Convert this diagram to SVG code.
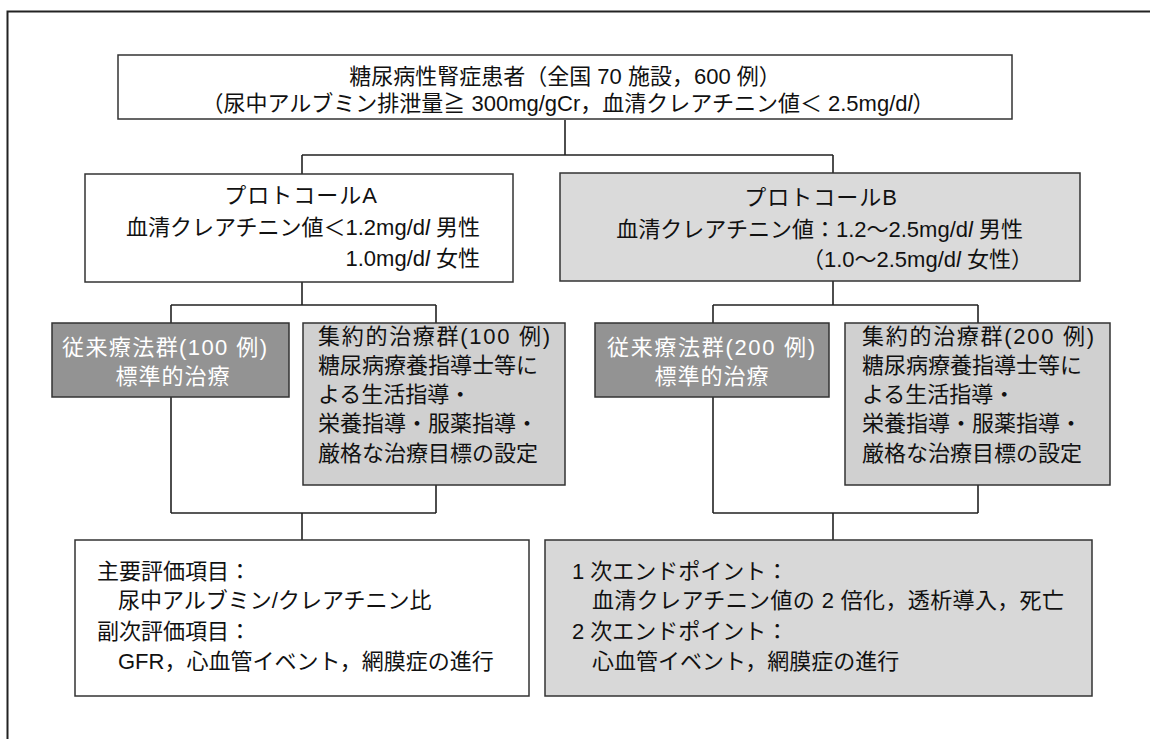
<svg xmlns="http://www.w3.org/2000/svg" width="1150" height="739" viewBox="0 0 1150 739">
<style>
.t{font-family:'Liberation Sans','Noto Sans CJK JP',sans-serif;font-size:22px;fill:#111}
.w{fill:#fff}
.bx{stroke:#333;stroke-width:1.5}
.cn{fill:none;stroke:#222;stroke-width:1.6}
.it{font-style:italic}
</style>
<rect x="0" y="0" width="1150" height="739" fill="#fff"/>
<path d="M7.5,739 V11.5 H1150" fill="none" stroke="#222" stroke-width="2"/>
<g id="connectors" class="cn">
<path d="M565,120 V155 M302,155 H833 M302,155 V174 M833,155 V173"/>
<path d="M302,282 V305 M171,305 H436 M171,305 V323 M436,305 V323"/>
<path d="M833,281 V305 M713,305 H978 M713,305 V323 M978,305 V323"/>
<path d="M171,397 V513 M436,485 V513 M171,513 H436 M302,513 V540"/>
<path d="M713,397 V513 M978,485 V513 M713,513 H978 M833,513 V540"/>
</g>
<g id="top">
<rect class="bx" x="118" y="55" width="894" height="64" fill="#fff"/>
<text class="t" x="565" y="84" text-anchor="middle" font-size="23">糖尿病性腎症患者（全国 70 施設，600 例）</text>
<text class="t" x="568" y="111" text-anchor="middle" font-size="23">（尿中アルブミン排泄量≧ 300mg/gCr，血清クレアチニン値＜ 2.5mg/d<tspan class="it">l</tspan>）</text>
</g>
<g id="protocolA">
<rect class="bx" x="85" y="174" width="428" height="108" fill="#fff"/>
<text class="t" x="301" y="203" text-anchor="middle" letter-spacing="1">プロトコールA</text>
<text class="t" x="480" y="235" text-anchor="end">血清クレアチニン値＜1.2mg/d<tspan class="it">l</tspan> 男性</text>
<text class="t" x="480" y="266" text-anchor="end">1.0mg/d<tspan class="it">l</tspan> 女性</text>
</g>
<g id="protocolB">
<rect class="bx" x="560" y="173" width="520" height="108" fill="#dadada"/>
<text class="t" x="821" y="205" text-anchor="middle" letter-spacing="1">プロトコールB</text>
<text class="t" x="1023" y="237" text-anchor="end">血清クレアチニン値：1.2～2.5mg/d<tspan class="it">l</tspan> 男性</text>
<text class="t" x="1033" y="267" text-anchor="end">（1.0～2.5mg/d<tspan class="it">l</tspan> 女性）</text>
</g>
<g id="conventionalA">
<rect class="bx" x="52" y="323" width="237" height="74" fill="#939393"/>
<text class="t w" x="62" y="355" font-size="23" textLength="205" lengthAdjust="spacing">従来療法群(100 例)</text>
<text class="t w" x="173" y="384" text-anchor="middle" font-size="23" letter-spacing="1">標準的治療</text>
</g>
<g id="intensiveA">
<rect class="bx" x="303" y="323" width="262" height="162" fill="#d0d0d0"/>
<text class="t" x="318" y="344" font-size="23" textLength="232" lengthAdjust="spacing">集約的治療群(100 例)</text>
<text class="t" x="318" y="373" font-size="23">糖尿病療養指導士等に</text>
<text class="t" x="318" y="402" font-size="23">よる生活指導・</text>
<text class="t" x="318" y="431" font-size="23">栄養指導・服薬指導・</text>
<text class="t" x="318" y="461" font-size="23">厳格な治療目標の設定</text>
</g>
<g id="conventionalB">
<rect class="bx" x="595" y="323" width="234" height="74" fill="#939393"/>
<text class="t w" x="607" y="355" font-size="23" textLength="208" lengthAdjust="spacing">従来療法群(200 例)</text>
<text class="t w" x="712" y="384" text-anchor="middle" font-size="23" letter-spacing="1">標準的治療</text>
</g>
<g id="intensiveB">
<rect class="bx" x="845" y="323" width="265" height="162" fill="#d0d0d0"/>
<text class="t" x="862" y="344" font-size="23" textLength="232" lengthAdjust="spacing">集約的治療群(200 例)</text>
<text class="t" x="862" y="373" font-size="23">糖尿病療養指導士等に</text>
<text class="t" x="862" y="402" font-size="23">よる生活指導・</text>
<text class="t" x="862" y="431" font-size="23">栄養指導・服薬指導・</text>
<text class="t" x="862" y="461" font-size="23">厳格な治療目標の設定</text>
</g>
<g id="endpointsA">
<rect class="bx" x="75" y="540" width="454" height="156" fill="#fff"/>
<text class="t" x="97" y="579">主要評価項目：</text>
<text class="t" x="118" y="608">尿中アルブミン/クレアチニン比</text>
<text class="t" x="97" y="639">副次評価項目：</text>
<text class="t" x="118" y="669">GFR，心血管イベント，網膜症の進行</text>
</g>
<g id="endpointsB">
<rect class="bx" x="545" y="540" width="547" height="156" fill="#d8d8d8"/>
<text class="t" x="572" y="579">1 次エンドポイント：</text>
<text class="t" x="592" y="608" textLength="472" lengthAdjust="spacing">血清クレアチニン値の 2 倍化，透析導入，死亡</text>
<text class="t" x="572" y="639">2 次エンドポイント：</text>
<text class="t" x="592" y="669">心血管イベント，網膜症の進行</text>
</g>
</svg>
